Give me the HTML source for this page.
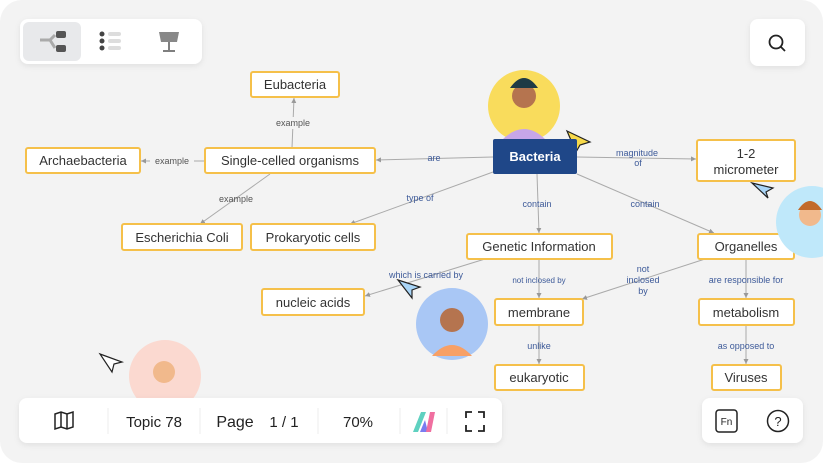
<!DOCTYPE html>
<html><head><meta charset="utf-8"><style>
html,body{margin:0;padding:0;background:#fff;width:823px;height:463px;overflow:hidden}
svg{display:block}
text{font-family:"Liberation Sans",sans-serif}
</style></head><body>
<svg width="823" height="463" viewBox="0 0 823 463" xmlns="http://www.w3.org/2000/svg">
<defs>
<filter id="sh" x="-10%" y="-30%" width="120%" height="160%"><feDropShadow dx="0" dy="2" stdDeviation="3" flood-color="#000" flood-opacity="0.08"/></filter>
<marker id="ar" markerWidth="6" markerHeight="6" refX="5" refY="3" orient="auto"><path d="M0,0.5 L5,3 L0,5.5z" fill="#999"/></marker>
</defs>
<rect x="0" y="0" width="823" height="463" rx="22" fill="#f3f3f3"/>

<!-- connectors -->
<g stroke="#aaa" stroke-width="1" fill="none" marker-end="url(#ar)">
<line x1="292" y1="148" x2="294" y2="98"/>
<line x1="205" y1="161" x2="141" y2="161"/>
<line x1="270" y1="174" x2="200" y2="224"/>
<line x1="493" y1="157" x2="376" y2="160"/>
<line x1="493" y1="172" x2="350" y2="224"/>
<line x1="577" y1="157" x2="696" y2="159"/>
<line x1="537" y1="174" x2="539" y2="233"/>
<line x1="577" y1="174" x2="714" y2="233"/>
<line x1="485" y1="259" x2="365" y2="296"/>
<line x1="539" y1="259" x2="539" y2="298"/>
<line x1="705" y1="259" x2="582" y2="299"/>
<line x1="746" y1="259" x2="746" y2="298"/>
<line x1="539" y1="325" x2="539" y2="364"/>
<line x1="746" y1="325" x2="746" y2="364"/>
</g>

<!-- connector labels -->
<g font-size="9" text-anchor="middle">
<rect x="273" y="117" width="40" height="12" fill="#f3f3f3"/>
<text x="293" y="126" fill="#555">example</text>
<rect x="150" y="155" width="44" height="12" fill="#f3f3f3"/>
<text x="172" y="164" fill="#555">example</text>
<text x="236" y="202" fill="#555">example</text>
<text x="434" y="161" fill="#3d5a99">are</text>
<text x="420" y="201" fill="#3d5a99">type of</text>
<text x="537" y="207" fill="#3d5a99">contain</text>
<text x="645" y="207" fill="#3d5a99">contain</text>
<text x="637" y="156" fill="#3d5a99">magnitude</text>
<text x="638" y="166" fill="#3d5a99">of</text>
<text x="426" y="278" fill="#3d5a99">which is carried by</text>
<text x="539" y="283" fill="#3d5a99" font-size="8">not inclosed by</text>
<text x="643" y="272" fill="#3d5a99">not</text>
<text x="643" y="283" fill="#3d5a99">inclosed</text>
<text x="643" y="294" fill="#3d5a99">by</text>
<text x="746" y="283" fill="#3d5a99">are responsible for</text>
<text x="539" y="349" fill="#3d5a99">unlike</text>
<text x="746" y="349" fill="#3d5a99">as opposed to</text>
</g>

<!-- nodes -->
<g fill="#fff" stroke="#f5c04a" stroke-width="2">
<rect x="251" y="72" width="88" height="25" rx="2"/>
<rect x="205" y="148" width="170" height="25" rx="2"/>
<rect x="26" y="148" width="114" height="25" rx="2"/>
<rect x="122" y="224" width="120" height="26" rx="2"/>
<rect x="251" y="224" width="124" height="26" rx="2"/>
<rect x="697" y="140" width="98" height="41" rx="2"/>
<rect x="467" y="234" width="145" height="25" rx="2"/>
<rect x="698" y="234" width="96" height="25" rx="2"/>
<rect x="262" y="289" width="102" height="26" rx="2"/>
<rect x="495" y="299" width="88" height="26" rx="2"/>
<rect x="699" y="299" width="95" height="26" rx="2"/>
<rect x="495" y="365" width="89" height="25" rx="2"/>
<rect x="712" y="365" width="69" height="25" rx="2"/>
</g>
<g font-size="13" fill="#333" text-anchor="middle">
<text x="295" y="89">Eubacteria</text>
<text x="290" y="165">Single-celled organisms</text>
<text x="83" y="165">Archaebacteria</text>
<text x="182" y="242">Escherichia Coli</text>
<text x="313" y="242">Prokaryotic cells</text>
<text x="746" y="158">1-2</text>
<text x="746" y="174">micrometer</text>
<text x="539" y="251">Genetic Information</text>
<text x="746" y="251">Organelles</text>
<text x="313" y="307">nucleic acids</text>
<text x="539" y="317">membrane</text>
<text x="746" y="317">metabolism</text>
<text x="539" y="382">eukaryotic</text>
<text x="746" y="382">Viruses</text>
</g>

<!-- avatars -->
<circle cx="524" cy="106" r="36" fill="#f9dc5c"/>
<circle cx="524" cy="96" r="12" fill="#b5744f"/>
<path d="M510 88 q14 -20 28 0 z" fill="#1f3a45"/>
<path d="M502 140 q22 -22 44 0 z" fill="#c7a6e8"/>
<circle cx="812" cy="222" r="36" fill="#bfe8fa"/>
<circle cx="810" cy="215" r="11" fill="#f1b98c"/>
<path d="M798 210 q12 -18 24 0 z" fill="#c26a2a"/>
<circle cx="452" cy="324" r="36" fill="#a9c7f5"/>
<circle cx="452" cy="320" r="12" fill="#b5744f"/>
<path d="M432 356 q20 -22 40 0 z" fill="#f7a066"/>
<circle cx="165" cy="376" r="36" fill="#fbd9d0"/>
<circle cx="164" cy="372" r="11" fill="#f1b98c"/>

<!-- cursors -->
<path d="M567 131 L590 142 L580 145 L576 152 z" fill="#f7d94a" stroke="#222" stroke-width="1.2"/>
<path d="M752 183 L773 188 L766 192 L768 198 z" fill="#a9d5f7" stroke="#222" stroke-width="1.2"/>
<path d="M398 280 L420 287 L412 290 L412 298 z" fill="#a9d5f7" stroke="#222" stroke-width="1.2"/>
<path d="M100 354 L122 362 L114 364 L112 372 z" fill="#fff" stroke="#222" stroke-width="1.2"/>

<!-- Bacteria -->
<rect x="493" y="139" width="84" height="35" rx="2" fill="#1f4788"/>
<text x="535" y="161" font-size="13" font-weight="bold" fill="#fff" text-anchor="middle">Bacteria</text>

<!-- top toolbar -->
<rect x="20" y="19" width="182" height="45" rx="8" fill="#fff" filter="url(#sh)"/>
<rect x="23" y="22" width="58" height="39" rx="6" fill="#e8e9eb"/>
<rect x="56" y="31" width="10" height="7" rx="2" fill="#555"/>
<rect x="56" y="45" width="10" height="7" rx="2" fill="#555"/>
<path d="M40 40 h10 l5 -5 M50 40 l5 8" stroke="#aaa" stroke-width="3" fill="none"/>
<g fill="#444"><circle cx="102" cy="34" r="2.5"/><circle cx="102" cy="41" r="2.5"/><circle cx="102" cy="48" r="2.5"/></g>
<g fill="#ddd"><rect x="108" y="32" width="13" height="4" rx="2"/><rect x="108" y="39" width="13" height="4" rx="2"/><rect x="108" y="46" width="13" height="4" rx="2"/></g>
<path d="M159 32 h20 l-2 10 h-16 z" fill="#888"/>
<path d="M169 42 v8 M163 51 h12" stroke="#555" stroke-width="1.5"/>

<!-- search -->
<rect x="750" y="19" width="55" height="47" rx="8" fill="#fff" filter="url(#sh)"/>
<circle cx="776" cy="42" r="6.5" stroke="#222" stroke-width="1.8" fill="none"/>
<line x1="781" y1="47" x2="785" y2="51" stroke="#222" stroke-width="1.8"/>

<!-- bottom toolbar -->
<rect x="19" y="398" width="483" height="45" rx="8" fill="#fff" filter="url(#sh)"/>
<g stroke="#eee"><line x1="108" y1="408" x2="108" y2="434"/><line x1="200" y1="408" x2="200" y2="434"/><line x1="318" y1="408" x2="318" y2="434"/><line x1="400" y1="408" x2="400" y2="434"/><line x1="447" y1="408" x2="447" y2="434"/></g>
<path d="M55 414 l6 -2 l6 2 l6 -2 v15 l-6 2 l-6 -2 l-6 2 z M61 412 v15 M67 414 v15" stroke="#222" stroke-width="1.5" fill="none"/>
<g font-size="15" fill="#222" text-anchor="middle">
<text x="154" y="427">Topic 78</text>
<text x="235" y="427" font-size="16">Page</text>
<text x="284" y="427">1 / 1</text>
<text x="358" y="427">70%</text>
</g>
<path d="M413 432 l8 -20 h5 l-8 20 z" fill="#5fd1c0"/>
<path d="M420 432 l5 -12 l3 12 z" fill="#7a7cf0"/>
<path d="M426 432 l4 -20 h5 l-4 20 z" fill="#f06fa0"/>
<path d="M466 418 v-6 h6 M478 412 h6 v6 M466 425 v6 h6 M484 425 v6 h-6" stroke="#222" stroke-width="1.8" fill="none"/>

<rect x="702" y="398" width="101" height="45" rx="8" fill="#fff" filter="url(#sh)"/>
<rect x="716" y="410" width="21" height="22" rx="3" stroke="#222" stroke-width="1.5" fill="none"/>
<text x="726.5" y="425" font-size="10" fill="#222" text-anchor="middle">Fn</text>
<circle cx="778" cy="421" r="10.5" stroke="#222" stroke-width="1.5" fill="none"/>
<text x="778" y="426" font-size="13" fill="#222" text-anchor="middle">?</text>
</svg>
</body></html>
